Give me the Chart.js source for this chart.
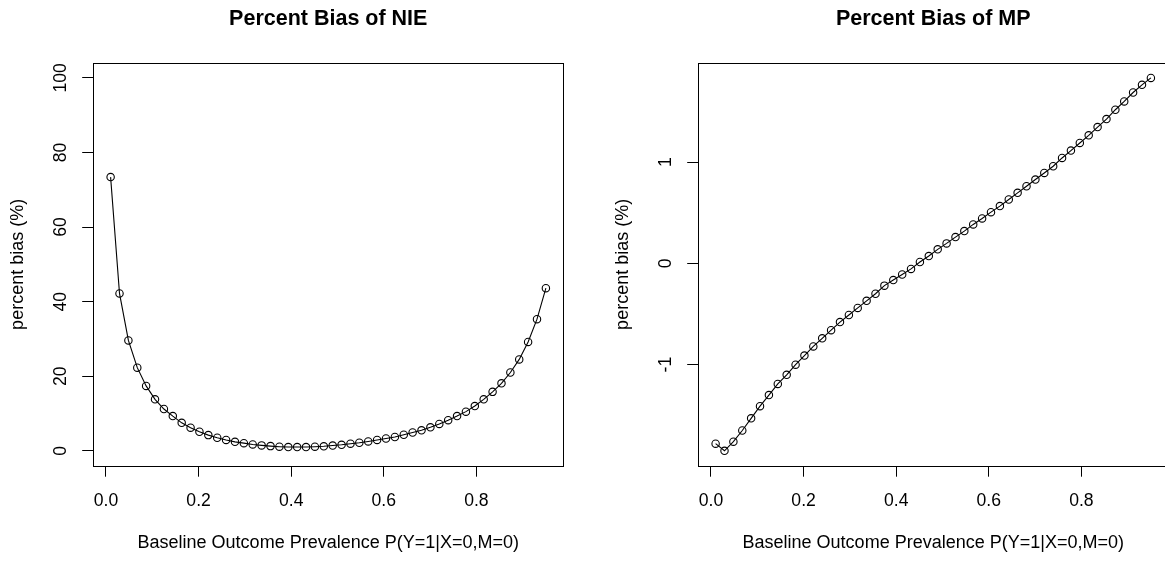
<!DOCTYPE html>
<html>
<head>
<meta charset="utf-8">
<script src="https://cdn.jsdelivr.net/npm/chart.js@4.4.1/dist/chart.umd.min.js"></script>
<style>
  html, body { margin: 0; padding: 0; background: #fff; overflow: hidden; }
  body { width: 1165px; height: 561px; position: relative; }
  .panel { position: absolute; top: 0; width: 600px; height: 561px; }
</style>
</head>
<body>
<div class="panel" style="left:0px"><canvas id="nie-chart"></canvas></div>
<div class="panel" style="left:605px"><canvas id="mp-chart"></canvas></div>
<script>
// baseline outcome prevalence P(Y=1|X=0,M=0), 50 points from 0.01 to 0.95
var prevalence = [
  0.0100, 0.0292, 0.0484, 0.0676, 0.0867, 0.1059, 0.1251, 0.1443, 0.1635, 0.1827,
  0.2018, 0.2210, 0.2402, 0.2594, 0.2786, 0.2978, 0.3169, 0.3361, 0.3553, 0.3745,
  0.3937, 0.4129, 0.4320, 0.4512, 0.4704, 0.4896, 0.5088, 0.5280, 0.5471, 0.5663,
  0.5855, 0.6047, 0.6239, 0.6431, 0.6622, 0.6814, 0.7006, 0.7198, 0.7390, 0.7582,
  0.7773, 0.7965, 0.8157, 0.8349, 0.8541, 0.8733, 0.8924, 0.9116, 0.9308, 0.9500
];

var biasNIE = [
  73.4, 42.2, 29.6, 22.3, 17.4, 13.8, 11.2, 9.3, 7.5, 6.2,
  5.1, 4.2, 3.5, 2.9, 2.4, 2.05, 1.7, 1.45, 1.25, 1.1,
  1.0, 1.0, 1.0, 1.1, 1.2, 1.4, 1.6, 1.9, 2.15, 2.5,
  2.9, 3.3, 3.7, 4.3, 4.9, 5.5, 6.3, 7.2, 8.2, 9.3,
  10.5, 12.0, 13.8, 15.8, 18.1, 21.0, 24.5, 29.2, 35.3, 43.6
];

var biasMP = [
  -1.78, -1.85, -1.76, -1.65, -1.53, -1.41, -1.30, -1.19, -1.10, -1.00,
  -0.91, -0.82, -0.74, -0.66, -0.58, -0.51, -0.44, -0.37, -0.30, -0.22,
  -0.165, -0.11, -0.055, 0.013, 0.072, 0.138, 0.197, 0.259, 0.318, 0.384,
  0.443, 0.505, 0.565, 0.630, 0.696, 0.761, 0.827, 0.892, 0.958, 1.040,
  1.113, 1.188, 1.263, 1.345, 1.424, 1.516, 1.598, 1.686, 1.762, 1.830
];

var xTicks = [0, 0.2, 0.4, 0.6, 0.8];
var nieTicks = [0, 20, 40, 60, 80, 100];
var mpTicks = [-1, 0, 1];
var nieLimits = [0, 100];

var xLabel = 'Baseline Outcome Prevalence P(Y=1|X=0,M=0)';
var yLabel = 'percent bias (%)';

Chart.defaults.font.family = "'Liberation Sans', Arial, Helvetica, sans-serif";
Chart.defaults.color = '#000';

// R style axis range: limits extended by 4%
function extend(lo, hi) {
  var r = hi - lo;
  return [lo - 0.04 * r, hi + 0.04 * r];
}

var boxPlugin = {
  id: 'box',
  afterDraw: function(chart) {
    var a = chart.chartArea, ctx = chart.ctx;
    ctx.save();
    ctx.strokeStyle = '#000';
    ctx.lineWidth = 1;
    ctx.strokeRect(Math.round(a.left) + 0.5, Math.round(a.top) + 0.5,
      Math.round(a.right) - Math.round(a.left), Math.round(a.bottom) - Math.round(a.top));
    ctx.restore();
  }
};

function makeChart(id, title, values, yTicks, yRange, yPad, fmt) {
  var xr = extend(Math.min.apply(null, prevalence), Math.max.apply(null, prevalence));
  var pts = prevalence.map(function(x, i) { return {x: x, y: values[i]}; });
  return new Chart(document.getElementById(id), {
    type: 'line',
    data: {
      datasets: [{
        data: pts,
        borderColor: '#000',
        borderWidth: 1.1,
        pointRadius: 3.7,
        pointHoverRadius: 3.7,
        pointBorderWidth: 1.1,
        pointBorderColor: '#000',
        pointBackgroundColor: 'rgba(0,0,0,0)',
        tension: 0,
        clip: false
      }]
    },
    options: {
      responsive: true,
      maintainAspectRatio: false,
      animation: false,
      layout: { padding: { left: 0, top: 0, right: 36.7, bottom: 0 } },
      plugins: {
        legend: { display: false },
        tooltip: { enabled: false },
        title: {
          display: true,
          text: title,
          fullSize: false,
          color: '#000',
          font: { size: 21.5, weight: 'bold' },
          padding: { top: 6.5, bottom: 30.7 }
        }
      },
      scales: {
        x: {
          type: 'linear',
          min: xr[0],
          max: xr[1],
          afterBuildTicks: function(s) { s.ticks = xTicks.map(function(v) { return {value: v}; }); },
          afterFit: function(s) { s.height = 95.3; },
          grid: { display: true, drawOnChartArea: false, drawTicks: true, tickLength: 11, color: '#000', lineWidth: 1 },
          border: { display: false },
          ticks: {
            font: { size: 17.6 },
            color: '#000',
            padding: 13.4,
            maxRotation: 0,
            minRotation: 0,
            autoSkip: false,
            callback: function(v) { return v.toFixed(1); }
          },
          title: {
            display: true,
            text: xLabel,
            color: '#000',
            font: { size: 18 },
            padding: { top: 0, bottom: 6.9 }
          }
        },
        y: {
          type: 'linear',
          min: yRange[0],
          max: yRange[1],
          afterBuildTicks: function(s) { s.ticks = yTicks.map(function(v) { return {value: v}; }); },
          afterFit: function(s) { s.width = 93.2; },
          grid: { display: true, drawOnChartArea: false, drawTicks: true, tickLength: 11, color: '#000', lineWidth: 1 },
          border: { display: false },
          ticks: {
            font: { size: 17.6 },
            color: '#000',
            padding: yPad,
            minRotation: 90,
            maxRotation: 90,
            crossAlign: 'center',
            autoSkip: false,
            callback: fmt
          },
          title: {
            display: true,
            text: yLabel,
            color: '#000',
            font: { size: 18 },
            padding: { top: 7.7, bottom: 0 }
          }
        }
      }
    },
    plugins: [boxPlugin]
  });
}

var nieRange = extend(nieLimits[0], nieLimits[1]);
var mpRange = extend(Math.min.apply(null, biasMP), Math.max.apply(null, biasMP));

makeChart('nie-chart', 'Percent Bias of NIE', biasNIE, nieTicks, nieRange, 6.1,
  function(v) { return String(v); });
makeChart('mp-chart', 'Percent Bias of MP', biasMP, mpTicks, mpRange, 13.0,
  function(v) { return String(v); });
</script>
</body>
</html>
